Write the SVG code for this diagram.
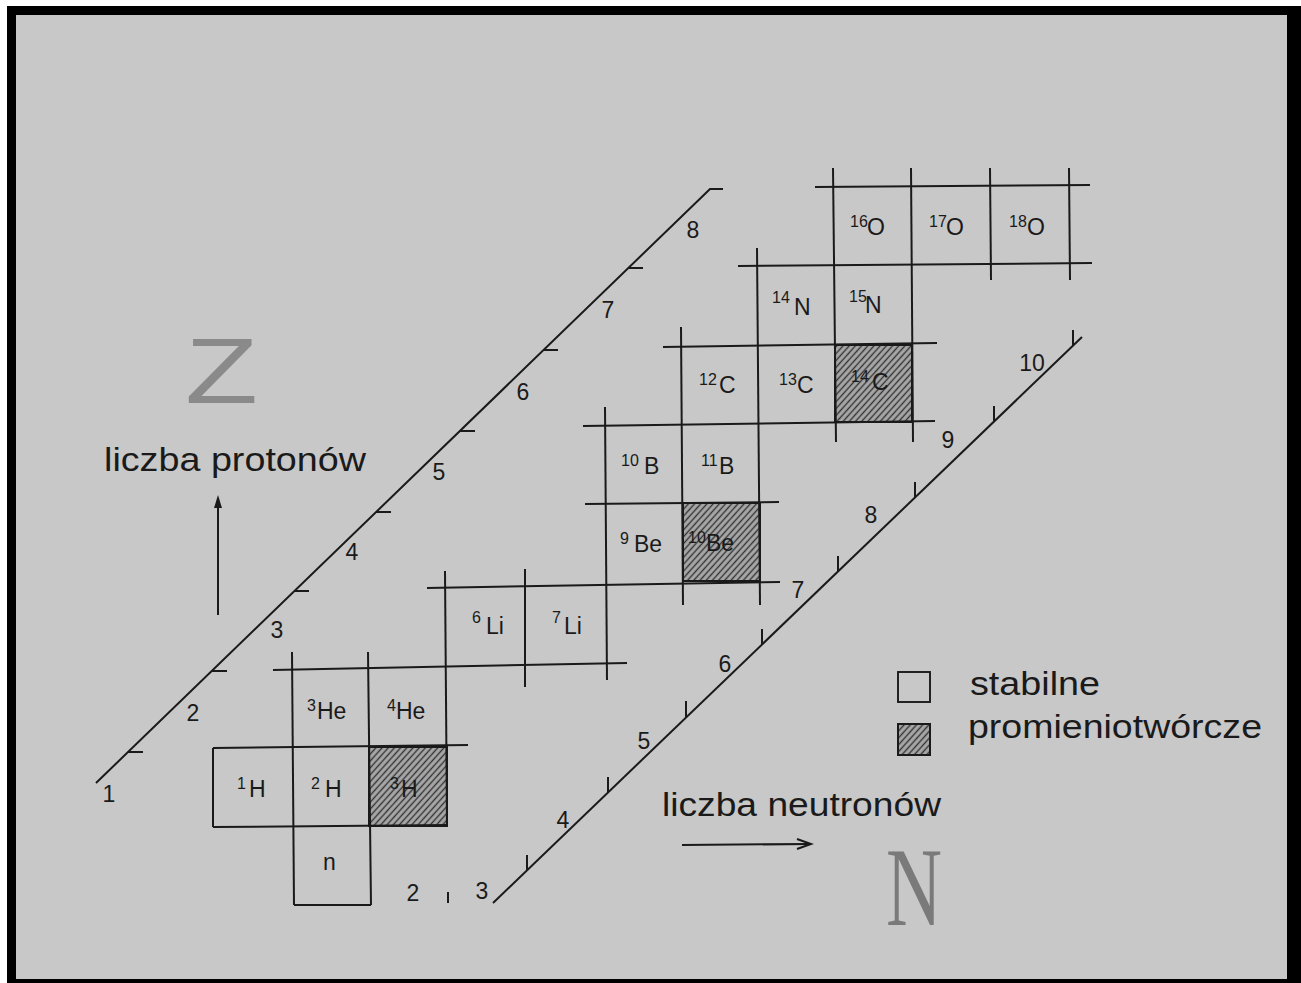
<svg xmlns="http://www.w3.org/2000/svg" width="1301" height="983" viewBox="0 0 1301 983">
<defs>
<pattern id="hatch" patternUnits="userSpaceOnUse" width="4.6" height="4.6" patternTransform="rotate(42)">
<rect width="4.6" height="4.6" fill="#a8a8a8"/>
<line x1="2.3" y1="0" x2="2.3" y2="4.6" stroke="#333333" stroke-width="1.4"/>
</pattern>
</defs>
<style>
.ln{stroke:#1a1a1a;stroke-width:2;fill:none;stroke-linecap:butt}
.t{font-family:"Liberation Sans",Arial,sans-serif;fill:#1a1a1a}
.sym{font-size:23px}
.sup{font-size:16px}
.num{font-size:23px;text-anchor:middle}
.big{font-size:33px}
.hat{fill:url(#hatch);stroke:#1a1a1a;stroke-width:2}
</style>

<rect x="0" y="0" width="1301" height="983" fill="#ffffff"/>
<rect x="7" y="6" width="1294" height="977" fill="#000000"/>
<rect x="16" y="15" width="1271" height="964" fill="#c8c8c8"/>

<g id="hatched-cells">
<rect class="hat" x="369" y="747" width="78" height="79"/>
<rect class="hat" x="683" y="503" width="77" height="78"/>
<rect class="hat" x="835" y="345" width="77" height="77"/>
</g>

<g id="grid">
<line class="ln" x1="294" y1="905" x2="371" y2="905"/>
<line class="ln" x1="213" y1="827" x2="447" y2="825"/>
<line class="ln" x1="213" y1="748" x2="468" y2="745"/>
<line class="ln" x1="273" y1="670" x2="627" y2="663"/>
<line class="ln" x1="427" y1="588" x2="780" y2="582"/>
<line class="ln" x1="585" y1="504" x2="779" y2="502"/>
<line class="ln" x1="583" y1="426" x2="935" y2="421"/>
<line class="ln" x1="663" y1="347" x2="937" y2="343"/>
<line class="ln" x1="738" y1="266" x2="1092" y2="263"/>
<line class="ln" x1="815" y1="187" x2="1090" y2="185"/>
<line class="ln" x1="213" y1="748" x2="213" y2="827"/>
<line class="ln" x1="292" y1="652" x2="294" y2="905"/>
<line class="ln" x1="368" y1="652" x2="371" y2="905"/>
<line class="ln" x1="445" y1="571" x2="447" y2="826"/>
<line class="ln" x1="525" y1="569" x2="525" y2="687"/>
<line class="ln" x1="605" y1="407" x2="607" y2="680"/>
<line class="ln" x1="681" y1="327" x2="683" y2="605"/>
<line class="ln" x1="757" y1="248" x2="760" y2="605"/>
<line class="ln" x1="833" y1="168" x2="836" y2="442"/>
<line class="ln" x1="911" y1="168" x2="913" y2="442"/>
<line class="ln" x1="990" y1="168" x2="991" y2="280"/>
<line class="ln" x1="1069" y1="168" x2="1070" y2="280"/>
</g>

<g id="nuclides">
<g id="n-neutron"><text class="t sym" x="323" y="870">n</text></g>
<g id="n-H1"><text class="t sym"><tspan class="sup" x="237" y="789">1</tspan><tspan x="249" y="797">H</tspan></text></g>
<g id="n-H2"><text class="t sym"><tspan class="sup" x="311" y="789">2</tspan><tspan x="325" y="797">H</tspan></text></g>
<g id="n-H3"><text class="t sym"><tspan class="sup" x="390" y="789">3</tspan><tspan x="401" y="797">H</tspan></text></g>
<g id="n-He3"><text class="t sym"><tspan class="sup" x="307" y="711">3</tspan><tspan x="317" y="719">He</tspan></text></g>
<g id="n-He4"><text class="t sym"><tspan class="sup" x="387" y="711">4</tspan><tspan x="396" y="719">He</tspan></text></g>
<g id="n-Li6"><text class="t sym"><tspan class="sup" x="472" y="623">6</tspan><tspan x="486" y="634">Li</tspan></text></g>
<g id="n-Li7"><text class="t sym"><tspan class="sup" x="552" y="623">7</tspan><tspan x="564" y="634">Li</tspan></text></g>
<g id="n-Be9"><text class="t sym"><tspan class="sup" x="620" y="544">9</tspan><tspan x="634" y="552">Be</tspan></text></g>
<g id="n-Be10"><text class="t sym"><tspan class="sup" x="688" y="543">10</tspan><tspan x="706" y="551">Be</tspan></text></g>
<g id="n-B10"><text class="t sym"><tspan class="sup" x="621" y="466">10</tspan><tspan x="644" y="474">B</tspan></text></g>
<g id="n-B11"><text class="t sym"><tspan class="sup" x="701" y="466">11</tspan><tspan x="719" y="474">B</tspan></text></g>
<g id="n-C12"><text class="t sym"><tspan class="sup" x="699" y="385">12</tspan><tspan x="719" y="393">C</tspan></text></g>
<g id="n-C13"><text class="t sym"><tspan class="sup" x="779" y="385">13</tspan><tspan x="797" y="393">C</tspan></text></g>
<g id="n-C14"><text class="t sym"><tspan class="sup" x="851" y="382">14</tspan><tspan x="872" y="390">C</tspan></text></g>
<g id="n-N14"><text class="t sym"><tspan class="sup" x="772" y="303">14</tspan><tspan x="794" y="315">N</tspan></text></g>
<g id="n-N15"><text class="t sym"><tspan class="sup" x="849" y="302">15</tspan><tspan x="865" y="313">N</tspan></text></g>
<g id="n-O16"><text class="t sym"><tspan class="sup" x="850" y="227">16</tspan><tspan x="867" y="235">O</tspan></text></g>
<g id="n-O17"><text class="t sym"><tspan class="sup" x="929" y="227">17</tspan><tspan x="946" y="235">O</tspan></text></g>
<g id="n-O18"><text class="t sym"><tspan class="sup" x="1009" y="227">18</tspan><tspan x="1027" y="235">O</tspan></text></g>
</g>

<g id="z-axis">
<polyline class="ln" points="96,783 710,189 723,189"/>
<line class="ln" x1="128" y1="752" x2="143" y2="752"/>
<line class="ln" x1="212" y1="671" x2="227" y2="671"/>
<line class="ln" x1="294" y1="591" x2="309" y2="591"/>
<line class="ln" x1="376" y1="512" x2="391" y2="512"/>
<line class="ln" x1="460" y1="431" x2="475" y2="431"/>
<line class="ln" x1="543" y1="350" x2="558" y2="350"/>
<line class="ln" x1="628" y1="268" x2="643" y2="268"/>
<text class="t num" x="109" y="802">1</text>
<text class="t num" x="193" y="721">2</text>
<text class="t num" x="277" y="638">3</text>
<text class="t num" x="352" y="560">4</text>
<text class="t num" x="439" y="480">5</text>
<text class="t num" x="523" y="400">6</text>
<text class="t num" x="608" y="318">7</text>
<text class="t num" x="693" y="238">8</text>
</g>

<g id="n-axis">
<line class="ln" x1="493" y1="903" x2="1082" y2="337"/>
<line class="ln" x1="527" y1="870" x2="527" y2="855"/>
<line class="ln" x1="608" y1="792" x2="608" y2="777"/>
<line class="ln" x1="686" y1="717" x2="686" y2="701"/>
<line class="ln" x1="762" y1="644" x2="762" y2="629"/>
<line class="ln" x1="838" y1="571" x2="838" y2="556"/>
<line class="ln" x1="915" y1="497" x2="915" y2="482"/>
<line class="ln" x1="994" y1="421" x2="994" y2="406"/>
<line class="ln" x1="1073" y1="345" x2="1073" y2="330"/>
<line class="ln" x1="448" y1="892" x2="448" y2="903"/>
<text class="t num" x="413" y="901">2</text>
<text class="t num" x="482" y="899">3</text>
<text class="t num" x="563" y="828">4</text>
<text class="t num" x="644" y="749">5</text>
<text class="t num" x="725" y="672">6</text>
<text class="t num" x="798" y="598">7</text>
<text class="t num" x="871" y="523">8</text>
<text class="t num" x="948" y="448">9</text>
<text class="t num" x="1032" y="371">10</text>
</g>

<g id="z-label">
<text x="185" y="403" font-family="Liberation Sans, Arial, sans-serif" font-size="92" fill="#8a8a8a" textLength="73" lengthAdjust="spacingAndGlyphs">Z</text>
<text class="t big" x="104" y="471" textLength="262" lengthAdjust="spacingAndGlyphs">liczba protonów</text>
<line class="ln" x1="218" y1="615" x2="218" y2="506"/>
<polygon points="218,495 214,508 222,508" fill="#1a1a1a"/>
</g>

<g id="n-label">
<text class="t big" x="662" y="816" textLength="279" lengthAdjust="spacingAndGlyphs">liczba neutronów</text>
<line class="ln" x1="682" y1="845" x2="810" y2="844" stroke-width="1.6"/>
<polyline class="ln" points="797,839 811,844 797,849" stroke-width="1.6"/>
<text x="886" y="925" font-family="Liberation Serif, Times New Roman, serif" font-size="112" fill="#7a7a7a" textLength="56" lengthAdjust="spacingAndGlyphs">N</text>
</g>

<g id="legend">
<rect x="898" y="672" width="32" height="30" fill="none" stroke="#1a1a1a" stroke-width="1.9"/>
<rect class="hat" x="898" y="724" width="32" height="31"/>
<text class="t big" x="970" y="695" textLength="130" lengthAdjust="spacingAndGlyphs">stabilne</text>
<text class="t big" x="968" y="738" textLength="294" lengthAdjust="spacingAndGlyphs">promieniotwórcze</text>
</g>
</svg>
